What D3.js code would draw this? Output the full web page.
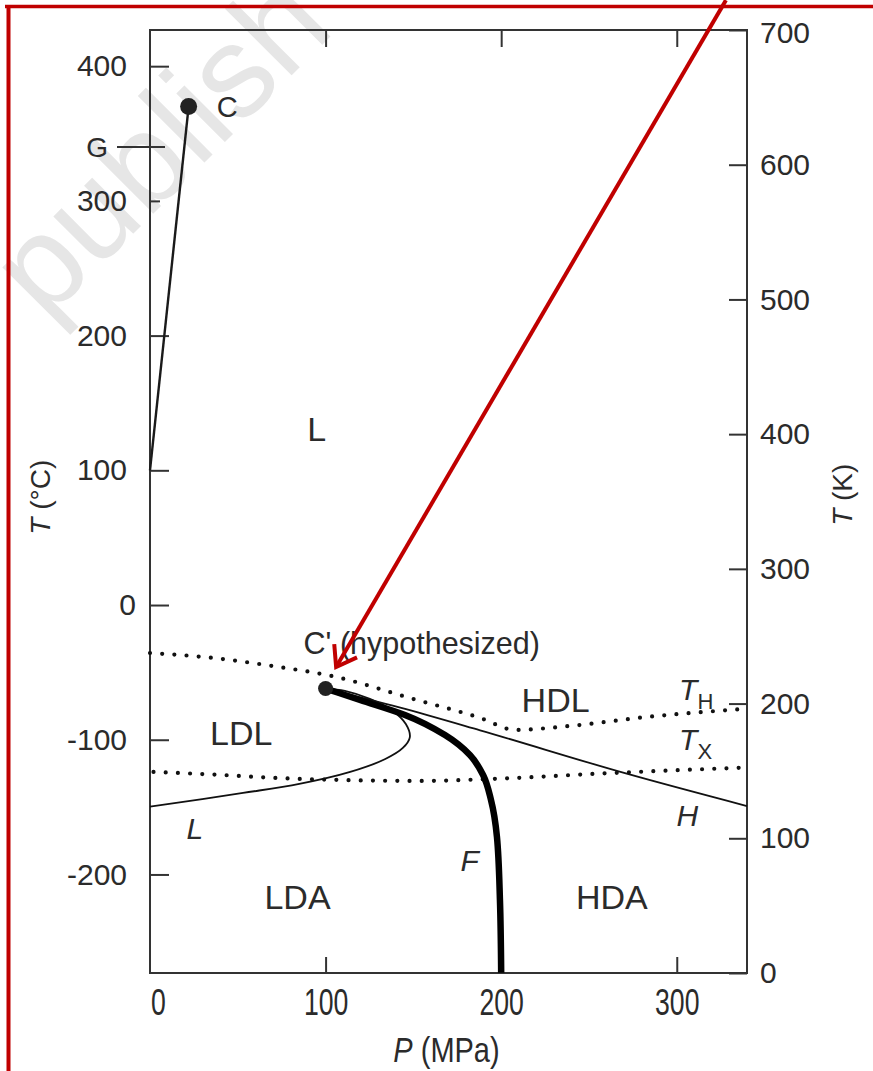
<!DOCTYPE html>
<html>
<head>
<meta charset="utf-8">
<script src="https://cdn.jsdelivr.net/npm/d3@7"></script>
<style>
  html, body { margin: 0; padding: 0; background: #fff; }
  svg { display: block; }
  text { font-family: "Liberation Sans", Arial, Helvetica, sans-serif; fill: #2b2b2b; }
</style>
</head>
<body>
<svg id="chart" width="873" height="1071"></svg>
<script>
// ---- axis ticks ----
const pressureTicks = [0, 100, 200, 300];            // MPa
const celsiusTicks  = [-200, -100, 0, 100, 200, 300, 400];
const kelvinTicks   = [0, 100, 200, 300, 400, 500, 600, 700];
const gasMarkTemp   = 340;                           // °C, level marked "G"

// ---- points, [P (MPa), T (°C)] ----
const criticalPoint       = [22, 370];
const secondCriticalPoint = [100, -62];

// liquid–vapour coexistence line
const boilingLine = [[0, 100], [22, 370]];

// homogeneous nucleation line T_H (dotted)
const tHLine = [[0, -35.6], [36, -39.3], [70, -45.3], [106, -53.4], [148, -69],
                [188, -83.8], [208, -92.7], [239, -89.8], [283, -83.1], [340, -77]];

// crystallisation line T_X (dotted)
const tXLine = [[2, -123.9], [40, -126.1], [72, -128.4], [110, -129.9], [154, -130.6],
                [195, -129.1], [263, -124.7], [336, -120.8]];

// LDL spinodal L
const lLine = [[0, -149.7], [53, -139.5], [85, -132.8], [114, -123.9], [134, -114.3],
               [144, -106.1], [148, -98], [145.7, -88.3], [138.3, -78.6], [125.2, -69.7],
               [111, -63.7], [100, -62]];

// LDL–HDL / LDA–HDA first-order line F
const fLine = [[100, -62], [119.6, -70.5], [145.2, -81.6], [168, -96.5], [182.2, -111.3],
               [189.7, -126.2], [194.2, -144.7], [197.6, -172.2], [199.3, -219], [200, -273]];

// HDL spinodal H
const hLine = [[100, -62], [142, -76], [188, -93], [271, -125], [340, -149.2]];

// phase region names, [name, P, T]
const regionLabels = [["L", 95, 131], ["LDL", 52, -95], ["HDL", 231, -70.5],
                      ["LDA", 84, -216.7], ["HDA", 263, -216.7]];
// italic line names, [name, P, T]
const lineLabels = [["L", 25.6, -165.5], ["F", 182, -189.3], ["H", 306, -155.8]];

// ---- scales ----
const svg = d3.select("#chart");
const x  = d3.scaleLinear().domain([0, 340]).range([150, 747]);
const yK = d3.scaleLinear().domain([0, 700]).range([973, 30]);
const yC = d3.scaleLinear().domain([-273.15, 426.85]).range([973, 30]);

const FONT = '"Liberation Sans", Arial, Helvetica, sans-serif';

// ---- watermark ----
svg.append("text")
  .attr("transform", "translate(45,322) rotate(-45)")
  .style("font-size", "130px")
  .style("fill", "#e6e6e6")
  .text("publish");

// ---- plot frame ----
svg.append("rect")
  .attr("x", x(0)).attr("y", yK(700))
  .attr("width", x(340) - x(0)).attr("height", yK(0) - yK(700))
  .attr("fill", "none").attr("stroke", "#333").attr("stroke-width", 2);

function styleAxis(g) {
  g.select(".domain").remove();
  g.selectAll(".tick line").attr("stroke", "#333").attr("stroke-width", 2);
  g.selectAll(".tick text").style("font-family", FONT).style("fill", "#2b2b2b");
}

// left axis, °C
const gLeft = svg.append("g").attr("transform", `translate(${x(0)},0)`)
  .call(d3.axisLeft(yC).tickValues(celsiusTicks).tickSize(-19).tickPadding(23)
        .tickFormat(d => String(d)))
  .call(styleAxis);
gLeft.selectAll(".tick text").style("font-size", "30px");
gLeft.selectAll(".tick").filter(d => d === 300).select("line").attr("x2", 10);
gLeft.selectAll(".tick").filter(d => d === 0).select("text").attr("x", -14);

// right axis, K
const gRight = svg.append("g").attr("transform", `translate(${x(340)},0)`)
  .call(d3.axisRight(yK).tickValues(kelvinTicks).tickSize(-18).tickPadding(13)
        .tickFormat(d => String(d)))
  .call(styleAxis);
gRight.selectAll(".tick text").style("font-size", "30px");
gRight.selectAll(".tick").filter(d => d === 700).select("text").attr("dy", "0.42em");

// bottom axis, MPa
const gBottom = svg.append("g").attr("transform", `translate(0,${yK(0)})`)
  .call(d3.axisBottom(x).tickValues(pressureTicks).tickSize(-16)
        .tickFormat(d => String(d)))
  .call(styleAxis);
gBottom.selectAll(".tick").filter(d => d === 0).select("line").remove();
gBottom.selectAll(".tick text")
  .attr("y", 0).attr("dy", 0)
  .attr("transform", d => `translate(${d === 0 ? 8 : 0},42) scale(0.95,1.33)`)
  .style("font-size", "28px");

// top axis, ticks only
svg.append("g").attr("transform", `translate(0,${yK(700)})`)
  .call(d3.axisTop(x).tickValues(pressureTicks.filter(d => d > 0)).tickSize(-17)
        .tickFormat(""))
  .call(styleAxis);

// "G" level mark crossing the left axis
svg.append("line")
  .attr("x1", x(0) - 33).attr("x2", x(0) + 15)
  .attr("y1", yC(gasMarkTemp)).attr("y2", yC(gasMarkTemp))
  .attr("stroke", "#333").attr("stroke-width", 2);
svg.append("text")
  .attr("x", x(0) - 42).attr("y", yC(gasMarkTemp))
  .attr("text-anchor", "end").attr("dy", "0.35em")
  .style("font-size", "28px").text("G");

// axis titles
svg.append("text")
  .attr("transform", `translate(${(x(0) + x(340)) / 2 - 2},1062) scale(1,1.2)`)
  .attr("text-anchor", "middle").style("font-size", "29px")
  .call(t => { t.append("tspan").style("font-style", "italic").text("P");
               t.append("tspan").text(" (MPa)"); });
svg.append("text")
  .attr("transform", `translate(50,${yC(80)}) rotate(-90)`)
  .attr("text-anchor", "middle").style("font-size", "28px")
  .call(t => { t.append("tspan").style("font-style", "italic").text("T");
               t.append("tspan").text(" (°C)"); });
svg.append("text")
  .attr("transform", `translate(852,${yK(355)}) rotate(-90)`)
  .attr("text-anchor", "middle").style("font-size", "28px")
  .call(t => { t.append("tspan").style("font-style", "italic").text("T");
               t.append("tspan").text(" (K)"); });

// ---- curves ----
const lineOf = curve => d3.line().x(d => x(d[0])).y(d => yC(d[1])).curve(curve);

svg.append("path").datum(boilingLine)
  .attr("d", lineOf(d3.curveLinear))
  .attr("fill", "none").attr("stroke", "#1a1a1a").attr("stroke-width", 2.4);

svg.selectAll("path.dotted").data([tHLine, tXLine]).join("path")
  .attr("class", "dotted")
  .attr("d", lineOf(d3.curveMonotoneX))
  .attr("fill", "none").attr("stroke", "#111").attr("stroke-width", 4.2)
  .attr("stroke-linecap", "round").attr("stroke-dasharray", "0 12.2");

svg.append("path").datum(lLine)
  .attr("d", lineOf(d3.curveCatmullRom.alpha(0.5)))
  .attr("fill", "none").attr("stroke", "#111").attr("stroke-width", 1.8);

svg.append("path").datum(hLine)
  .attr("d", lineOf(d3.curveMonotoneX))
  .attr("fill", "none").attr("stroke", "#111").attr("stroke-width", 1.8);

svg.append("path").datum(fLine)
  .attr("d", lineOf(d3.curveMonotoneY))
  .attr("fill", "none").attr("stroke", "#000").attr("stroke-width", 6.5)
  .attr("stroke-linecap", "butt");

// critical points
svg.append("circle").attr("cx", x(criticalPoint[0])).attr("cy", yC(criticalPoint[1]))
  .attr("r", 8.5).attr("fill", "#222");
svg.append("circle").attr("cx", x(secondCriticalPoint[0])).attr("cy", yC(secondCriticalPoint[1]))
  .attr("r", 7.5).attr("fill", "#222");

// ---- labels ----
svg.append("text").attr("x", x(criticalPoint[0]) + 28).attr("y", yC(criticalPoint[1]))
  .attr("dy", "0.35em").style("font-size", "29px").text("C");
svg.append("text").attr("x", x(secondCriticalPoint[0]) - 22).attr("y", yC(secondCriticalPoint[1]) - 45)
  .attr("dy", "0.35em").style("font-size", "30.5px").text("C' (hypothesized)");

svg.selectAll("text.region").data(regionLabels).join("text")
  .attr("class", "region")
  .attr("x", d => x(d[1])).attr("y", d => yC(d[2]))
  .attr("text-anchor", "middle").attr("dy", "0.36em")
  .style("font-size", "34px").text(d => d[0]);

svg.selectAll("text.lname").data(lineLabels).join("text")
  .attr("class", "lname")
  .attr("x", d => x(d[1])).attr("y", d => yC(d[2]))
  .attr("text-anchor", "middle").attr("dy", "0.36em")
  .style("font-size", "30px").style("font-style", "italic").text(d => d[0]);

// T_H and T_X names
[["H", 307, -63], ["X", 307, -100]].forEach(([sub, p, t]) => {
  const tx = svg.append("text").attr("x", x(p) - 10).attr("y", yC(t) + 10)
    .style("font-size", "30px");
  tx.append("tspan").style("font-style", "italic").text("T");
  tx.append("tspan").attr("dy", 9).style("font-size", "22px").text(sub);
});

// ---- red annotation ----
const RED = "#c00000";
svg.append("line").attr("x1", 5).attr("x2", 873).attr("y1", 6.5).attr("y2", 6.5)
  .attr("stroke", RED).attr("stroke-width", 3.5);
svg.append("line").attr("x1", 8.5).attr("x2", 8.5).attr("y1", 5).attr("y2", 1071)
  .attr("stroke", RED).attr("stroke-width", 4);

const arrowTail = [328, 449];   // [P, T]
const arrowTip  = [106, -46];
const tx0 = x(arrowTail[0]), ty0 = yC(arrowTail[1]);
const tx1 = x(arrowTip[0]),  ty1 = yC(arrowTip[1]);
svg.append("line").attr("x1", tx0).attr("y1", ty0).attr("x2", tx1).attr("y2", ty1)
  .attr("stroke", RED).attr("stroke-width", 4);
const back = Math.atan2(ty0 - ty1, tx0 - tx1);
const armLen = 23, spread = 35 * Math.PI / 180;
const arm = a => [tx1 + armLen * Math.cos(a), ty1 + armLen * Math.sin(a)];
svg.append("path")
  .attr("d", d3.line()([arm(back + spread), [tx1, ty1], arm(back - spread)]))
  .attr("fill", "none").attr("stroke", RED).attr("stroke-width", 4)
  .attr("stroke-linejoin", "miter");
</script>
</body>
</html>
